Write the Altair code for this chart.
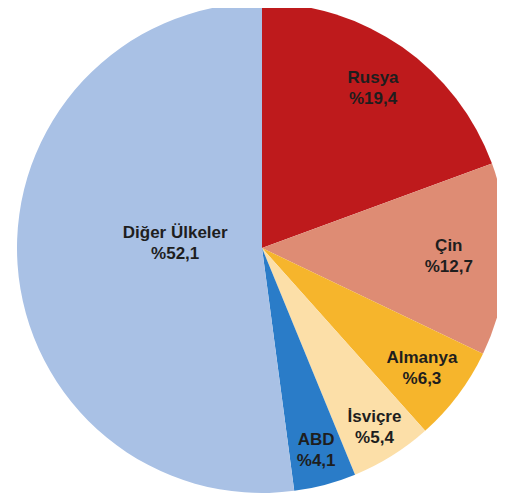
import altair as alt
import pandas as pd
import math

countries = ["Rusya", "Çin", "Almanya", "İsviçre", "ABD", "Diğer Ülkeler"]
shares = [19.4, 12.7, 6.3, 5.4, 4.1, 52.1]
colors = ["#BE1A1C", "#DE8C74", "#F6B52C", "#FCDFA8", "#2A7CC8", "#A9C1E5"]

# label distance from the pie centre (style, px)
label_radius = {"Rusya": 194, "Çin": 187, "Almanya": 200, "İsviçre": 212, "ABD": 210, "Diğer Ülkeler": 87}

df = pd.DataFrame({"ulke": countries, "pay": shares, "sira": list(range(len(countries)))})
df["r"] = df["ulke"].map(label_radius)

cx, cy, R = 254, 240, 245
FS, LH = 17, 21

arcs = alt.Chart(df).mark_arc(radius=R).encode(
    theta=alt.Theta("pay:Q", stack=True),
    order=alt.Order("sira:Q"),
    x=alt.value(cx),
    y=alt.value(cy),
    color=alt.Color("ulke:N", scale=alt.Scale(domain=countries, range=colors), legend=None),
)

text_style = dict(
    font="Liberation Sans", fontWeight="bold", fontSize=FS, lineBreak="\n",
    lineHeight=LH, align="center", baseline="middle", color="#1e1e1e"
)

lab = alt.Chart(df).transform_window(
    cum="sum(pay)", sort=[alt.SortField("sira")], frame=[None, 0]
).transform_joinaggregate(
    total="sum(pay)"
).transform_calculate(
    mid="datum.cum - datum.pay / 2",
    etiket="datum.ulke + '\\n%' + replace(format(datum.pay, '.1f'), '.', ',')",
).encode(
    theta=alt.Theta("mid:Q", stack=False, scale=alt.Scale(domain=[0, sum(shares)], range=[0, 2 * math.pi])),
    radius=alt.Radius("r:Q", scale=None),
    x=alt.value(cx),
    y=alt.value(cy),
    text="etiket:N",
)

labels_outer = lab.transform_filter("datum.ulke != 'Diğer Ülkeler'").mark_text(dy=-LH / 2, **text_style)
labels_inner = lab.transform_filter("datum.ulke == 'Diğer Ülkeler'").mark_text(dy=-LH / 2 - 10, **text_style)

chart = alt.layer(arcs, labels_outer, labels_inner).resolve_scale(theta="independent").properties(
    width=489, height=488, autosize=alt.AutoSizeParams(type="none"), padding=0
).configure_view(stroke=None)

chart.save("out.html", embed_options={"renderer": "svg", "actions": False})
